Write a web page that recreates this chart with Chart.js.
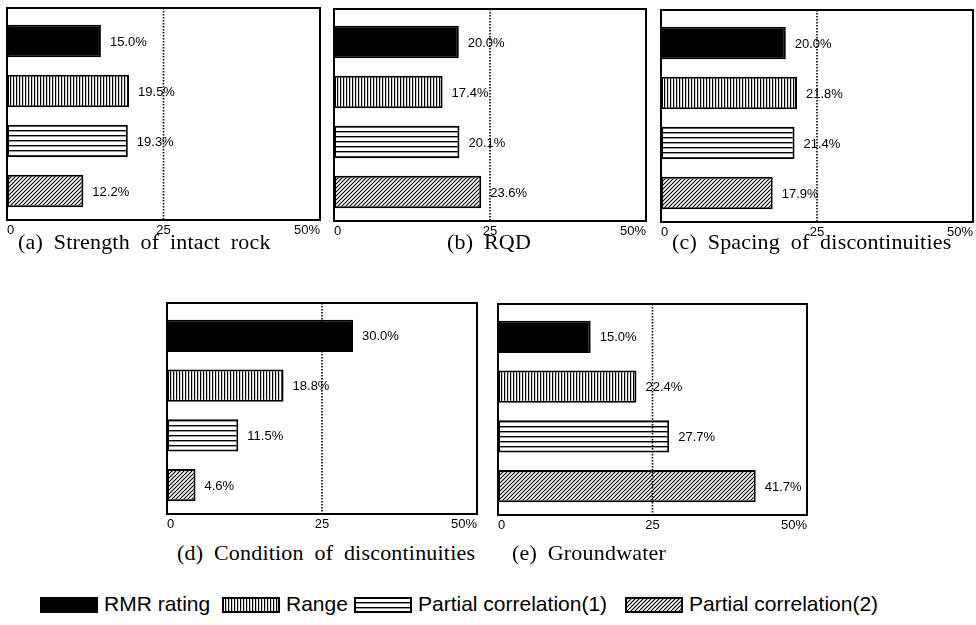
<!DOCTYPE html>
<html>
<head>
<meta charset="utf-8">
<script src="https://cdn.jsdelivr.net/npm/chart.js@4.4.0/dist/chart.umd.min.js"></script>
<style>
  body { margin: 0; background: #fff; width: 976px; height: 625px; position: relative; overflow: hidden; }
  .panel { position: absolute; }
  .cap { position: absolute; font-family: 'Liberation Serif', serif; font-size: 22px; letter-spacing: 0.2px; word-spacing: 5px; white-space: nowrap; color: #000; line-height: 22px; }
  .leg { position: absolute; top: 592px; font-family: 'Liberation Sans', Arial, sans-serif; font-size: 21px; line-height: 24px; white-space: nowrap; color: #000; }
  .sw { position: absolute; top: 597px; }
</style>
</head>
<body>

<script>
// categories (one bar each, top to bottom)
const categories = ['RMR rating', 'Range', 'Partial correlation(1)', 'Partial correlation(2)'];

// values in % for each panel
const strengthValues = [15.0, 19.5, 19.3, 12.2];
const rqdValues = [20.0, 17.4, 20.1, 23.6];
const spacingValues = [20.0, 21.8, 21.4, 17.9];
const conditionValues = [30.0, 18.8, 11.5, 4.6];
const groundwaterValues = [15.0, 22.4, 27.7, 41.7];

const panelTitles = [
    '(a) Strength of intact rock',
    '(b) RQD',
    '(c) Spacing of discontinuities',
    '(d) Condition of discontinuities',
    '(e) Groundwater'
];

const xTicks = [0, 25, 50];

// frame boxes of the five panels (left, right, top, bottom) and caption spots
const boxes = [
    { l: 7, r: 320, t: 8, b: 220, cx: 18, cy: 231 },
    { l: 334, r: 646, t: 9, b: 221, cx: 447, cy: 231 },
    { l: 661, r: 973, t: 10, b: 222, cx: 672, cy: 231 },
    { l: 167, r: 477, t: 303, b: 514, cx: 177, cy: 542 },
    { l: 498, r: 807, t: 304, b: 515, cx: 512, cy: 542 }
];
const allValues = [strengthValues, rqdValues, spacingValues, conditionValues, groundwaterValues];

// hatch patterns
function makePattern(kind) {
    if (kind == 'solid') return '#000';
    let c = document.createElement('canvas');
    let g = c.getContext('2d');
    if (kind == 'vert') {
        c.width = 3; c.height = 3;
        g.fillStyle = '#fff'; g.fillRect(0, 0, 3, 3);
        g.fillStyle = '#000'; g.fillRect(0, 0, 1.2, 3);
    } else if (kind == 'horiz') {
        c.width = 5; c.height = 5;
        g.fillStyle = '#fff'; g.fillRect(0, 0, 5, 5);
        g.fillStyle = '#000'; g.fillRect(0, 0, 5, 1.4);
    } else {
        c.width = 4; c.height = 4;
        g.fillStyle = '#fff'; g.fillRect(0, 0, 4, 4);
        g.strokeStyle = '#000'; g.lineWidth = 1.1;
        g.beginPath();
        g.moveTo(0, 4); g.lineTo(4, 0);
        g.moveTo(-1, 1); g.lineTo(1, -1);
        g.moveTo(3, 5); g.lineTo(5, 3);
        g.stroke();
    }
    return g.createPattern(c, 'repeat');
}
const kinds = ['solid', 'vert', 'horiz', 'diag'];
const fills = kinds.map(makePattern);

// frame, dotted 25% line and value labels
const framePlugin = {
    id: 'framePlugin',
    afterDatasetsDraw(chart) {
        let ctx = chart.ctx;
        let a = chart.chartArea;
        let x = chart.scales.x;
        let top = a.top - 8, bottom = a.bottom + 4;
        ctx.save();
        let x25 = x.getPixelForValue(25);
        ctx.strokeStyle = '#000';
        ctx.lineWidth = 1.6;
        ctx.setLineDash([1.5, 1.5]);
        ctx.beginPath();
        ctx.moveTo(x25, top);
        ctx.lineTo(x25, bottom);
        ctx.stroke();
        ctx.setLineDash([]);
        ctx.lineWidth = 2;
        ctx.strokeRect(a.left, top, a.right - a.left, bottom - top);

        let vals = chart.data.datasets[0].data;
        ctx.font = '13px "Liberation Sans"';
        ctx.textBaseline = 'middle';
        ctx.fillStyle = '#000';
        chart.getDatasetMeta(0).data.forEach(function (bar, i) {
            ctx.fillText(vals[i].toFixed(1) + '%', bar.x + 9, bar.y + 1);
        });
        ctx.restore();
    }
};

boxes.forEach(function (bx, p) {
    let div = document.createElement('div');
    div.className = 'panel';
    let w = bx.r - bx.l + 26;
    let h = bx.b - bx.t + 27;
    div.style.left = (bx.l - 12) + 'px';
    div.style.top = (bx.t - 3) + 'px';
    let cv = document.createElement('canvas');
    cv.width = w; cv.height = h;
    cv.style.width = w + 'px'; cv.style.height = h + 'px';
    div.appendChild(cv);
    document.body.appendChild(div);

    new Chart(cv.getContext('2d'), {
        type: 'bar',
        data: {
            labels: categories,
            datasets: [{
                data: allValues[p],
                backgroundColor: fills,
                borderColor: '#000',
                borderWidth: 2,
                borderSkipped: false,
                categoryPercentage: 1,
                barPercentage: 0.65
            }]
        },
        options: {
            indexAxis: 'y',
            responsive: false,
            animation: false,
            layout: { padding: { left: 12, right: 14, top: 11, bottom: 0 } },
            plugins: { legend: { display: false }, tooltip: { enabled: false } },
            scales: {
                x: {
                    type: 'linear', min: 0, max: 50,
                    grid: { display: false, drawTicks: false },
                    border: { display: false },
                    afterBuildTicks: function (s) { s.ticks = xTicks.map(v => ({ value: v })); },
                    afterFit: function (s) { s.height = 28; },
                    ticks: {
                        align: 'inner', padding: 7, maxRotation: 0, autoSkip: false,
                        color: '#000', font: { family: 'Liberation Sans', size: 13 },
                        callback: v => v == 50 ? '50%' : String(v)
                    }
                },
                y: { display: false, offset: true }
            }
        },
        plugins: [framePlugin]
    });

    let cap = document.createElement('div');
    cap.className = 'cap';
    cap.style.left = bx.cx + 'px';
    cap.style.top = bx.cy + 'px';
    cap.textContent = panelTitles[p];
    document.body.appendChild(cap);
});

// legend
const legendSpots = [40, 222, 354, 625];
categories.forEach(function (name, i) {
    let sw = document.createElement('canvas');
    sw.width = 58; sw.height = 16;
    sw.className = 'sw';
    sw.style.left = legendSpots[i] + 'px';
    let g = sw.getContext('2d');
    g.fillStyle = fills[i];
    g.fillRect(0, 0, 58, 16);
    g.strokeStyle = '#000'; g.lineWidth = 2;
    g.strokeRect(1, 1, 56, 14);
    document.body.appendChild(sw);
    let t = document.createElement('div');
    t.className = 'leg';
    t.style.left = (legendSpots[i] + 64) + 'px';
    t.textContent = name;
    document.body.appendChild(t);
});
</script>
</body>
</html>
